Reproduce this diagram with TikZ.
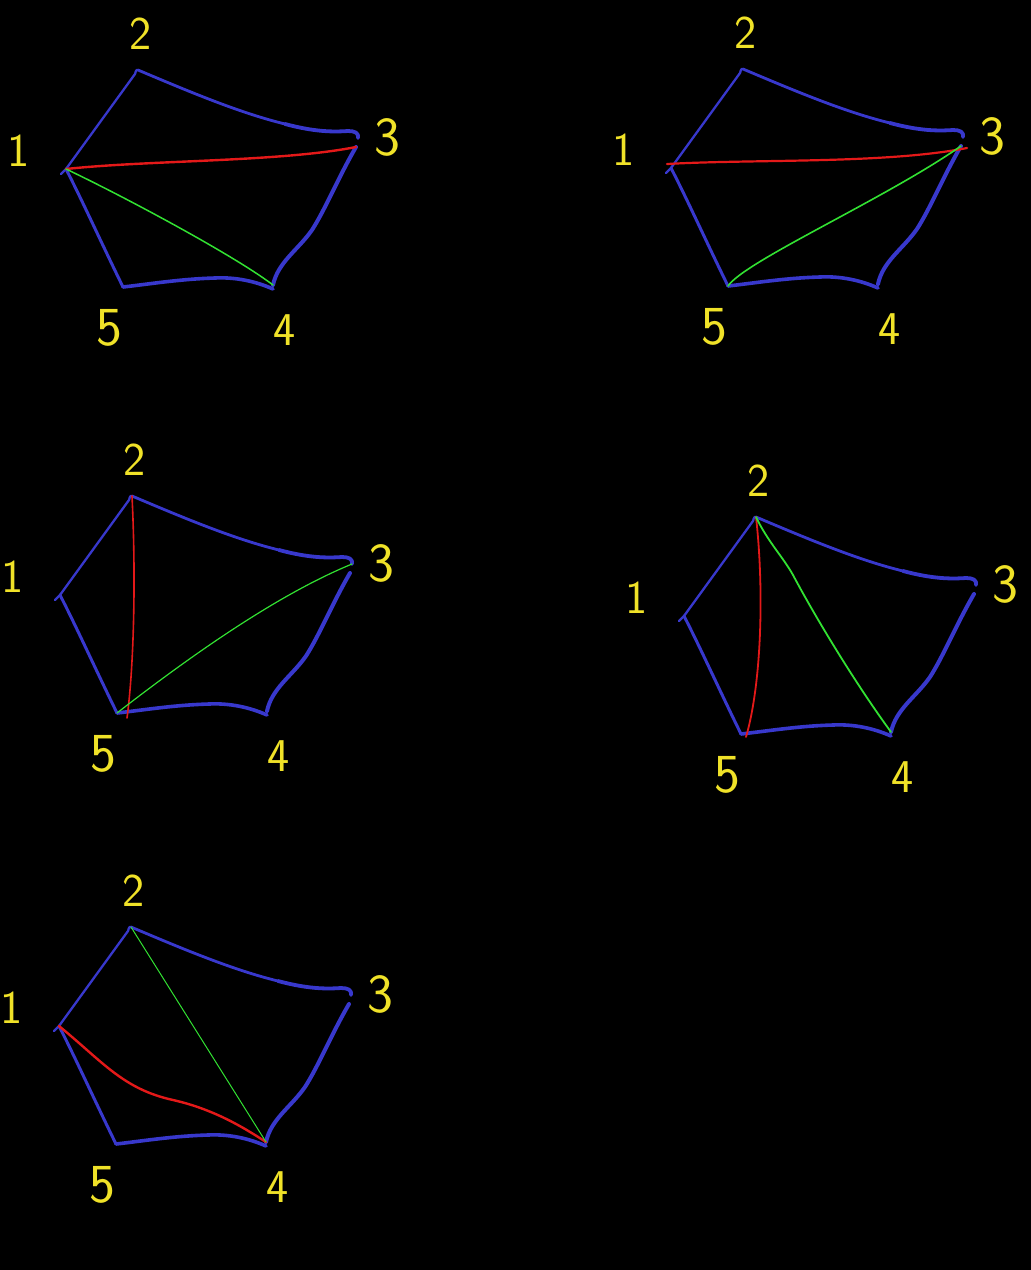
\documentclass[tikz,border=0pt]{standalone}
\usepackage{fontspec}
\definecolor{pblue}{RGB}{56,56,204}
\definecolor{pred}{RGB}{228,25,25}
\definecolor{pgreen}{RGB}{50,225,50}
\definecolor{pyellow}{RGB}{240,226,40}
\tikzset{
  edge/.style={draw=pblue, line cap=round, line join=round},
  diag/.style={line cap=round, line join=round},
  lbl/.style={text=pyellow, font=\sffamily\fontsize{47}{47}\selectfont, inner sep=0pt},
  biglbl/.style={lbl, font=\sffamily\fontsize{55}{55}\selectfont}
}
\newcommand\drawpenta{%
  \coordinate (v1) at (66,169);
  \coordinate (v2) at (138,70);
  \coordinate (v3) at (356,147);
  \coordinate (t3) at (358,138);
  \coordinate (v4) at (273,285);
  \coordinate (b4) at (273,289);
  \coordinate (v5) at (123,287);
  \coordinate (h1) at (61,174);
  \coordinate (h2) at (135,74);
  \coordinate (m23) at (285,124);
  \draw[edge, line width=2.3pt] (h1) -- (v1) -- (h2) .. controls (136,70) and (137,69) .. (v2);
  \draw[edge, line width=2.8pt] (v2) .. controls (190,92) and (240,113) .. (m23);
  \draw[edge, line width=3.8pt] (m23) .. controls (315,132) and (333,132) .. (348,131) .. controls (355,131) and (359,133) .. (t3);
  \draw[edge, line width=4pt] (v3) .. controls (338,178) and (326,208) .. (312,230) .. controls (298,250) and (278,262) .. (v4);
  \draw[edge, line width=3.6pt] (b4) .. controls (255,281) and (235,277) .. (215,278) .. controls (180,279) and (150,284) .. (v5);
  \draw[edge, line width=3pt] (v5) .. controls (100,240) and (82,200) .. (v1);
  \node[lbl] (l1) at (19,151) {1};
  \node[lbl] (l2) at (141,34) {2};
  \node[biglbl] (l3) at (387,137) {3};
  \node[biglbl] (l5) at (109,328) {5};
  \node[lbl] (l4) at (285,330) {4};
}
\begin{document}
\begin{tikzpicture}[x=1pt, y=-1pt]
  \path[fill=black] (0,0) rectangle (1031,1270);
  % panel 1
  \begin{scope}[shift={(0,0)}, name prefix=a-]
    \drawpenta
    \draw[diag, pred, line width=2.4pt] (v1) .. controls (150,160) and (280,162) .. (v3);
    \draw[diag, pgreen, line width=1.5pt] (v1) .. controls (125,197) and (235,256) .. (v4);
  \end{scope}
  % panel 2
  \begin{scope}[shift={(605,-1)}, name prefix=b-]
    \drawpenta
    \coordinate (r1) at (62,165);
    \coordinate (r3) at (362,149);
    \draw[diag, pred, line width=2.2pt] (r1) .. controls (150,160) and (280,165) .. (r3);
    \draw[diag, pgreen, line width=1.6pt] (v5) .. controls (140,262) and (280,200) .. (v3);
  \end{scope}
  % panel 3
  \begin{scope}[shift={(-6,426)}, name prefix=c-]
    \drawpenta
    \coordinate (r5) at (133,292);
    \draw[diag, pred, line width=1.6pt] (v2) .. controls (142,150) and (140,240) .. (r5);
    \draw[diag, pgreen, line width=1.2pt] (v5) .. controls (190,235) and (280,170) .. (t3);
  \end{scope}
  % panel 4
  \begin{scope}[shift={(618,447)}, name prefix=d-]
    \drawpenta
    \coordinate (r5) at (128,290);
    \draw[diag, pred, line width=1.8pt] (v2) .. controls (146,140) and (144,235) .. (r5);
    \draw[diag, pgreen, line width=1.8pt] (v2) .. controls (150,95) and (165,110) .. (175,128) .. controls (200,175) and (240,240) .. (v4);
  \end{scope}
  % panel 5
  \begin{scope}[shift={(-7,857)}, name prefix=e-]
    \drawpenta
    \draw[diag, pred, line width=2.4pt] (v1) .. controls (110,205) and (130,232) .. (180,243) .. controls (220,252) and (250,270) .. (v4);
    \draw[diag, pgreen, line width=1pt] (v2) -- (v4);
  \end{scope}
\end{tikzpicture}
\end{document}
